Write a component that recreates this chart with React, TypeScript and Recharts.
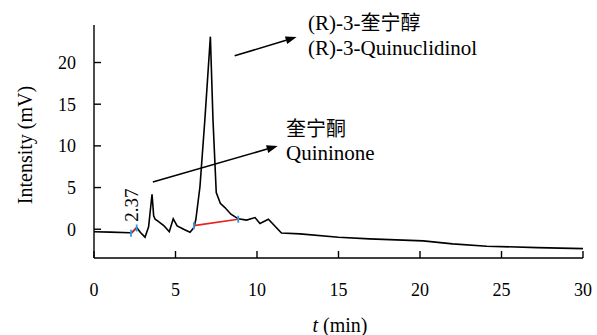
import React from 'react';
import { LineChart, Line, XAxis, YAxis, Scatter, ReferenceLine } from 'recharts';

// retention time (min) and detector signal (mV)
const times = [0, 1, 2.2, 2.3, 2.62, 2.85, 3.13, 3.35, 3.56, 3.66, 3.75, 3.9, 4.3, 4.62, 4.86, 5.1, 5.5, 5.89, 6.13, 6.25, 6.5, 6.8, 7.14, 7.3, 7.5, 7.75, 8.03, 8.4, 8.85, 9.36, 9.88, 10.18, 10.7, 11.5, 12.64, 15, 16.9, 20.2, 22, 24.1, 27.2, 30];
const signal = [-0.3, -0.35, -0.42, -0.45, 0.2, -0.4, -0.95, 0.3, 4.2, 1.6, 1.2, 1.0, 0.4, -0.3, 1.25, 0.4, 0.0, -0.35, 0.2, 1.2, 5.1, 13.1, 23.1, 13.1, 4.4, 3.1, 2.6, 1.8, 1.25, 1.1, 1.4, 0.7, 1.2, -0.45, -0.56, -0.96, -1.16, -1.4, -1.76, -2.04, -2.2, -2.33];

// integration baselines (start / end of each peak)
const baseA = [{ t: 2.27, v: -0.48 }, { t: 2.62, v: 0.15 }];
const baseB = [{ t: 6.13, v: 0.43 }, { t: 8.85, v: 1.2 }];
const peakMarks = [...baseA, ...baseB];

const xTicks = [0, 5, 10, 15, 20, 25, 30];
const yTicks = [0, 5, 10, 15, 20];

// annotation arrows [tail, head]
const arrowProduct = [{ x: 8.63, y: 20.8 }, { x: 12.43, y: 23.05 }];
const arrowSubstrate = [{ x: 3.61, y: 5.67 }, { x: 11.27, y: 9.98 }];

const chromatogram = times.map((t, i) => ({ t, v: signal[i] }));

const serif = 'Times New Roman, Liberation Serif, serif';
const cjk = 'Noto Sans CJK SC, sans-serif';

function Arrow(props: any) {
  const { x1, y1, x2, y2 } = props;
  if (x1 == null) return null;
  const ang = Math.atan2(y2 - y1, x2 - x1);
  const L = 11;
  const W = 4;
  const bx = x2 - L * Math.cos(ang);
  const by = y2 - L * Math.sin(ang);
  const px = -Math.sin(ang) * W;
  const py = Math.cos(ang) * W;
  return (
    <g>
      <line x1={x1} y1={y1} x2={bx} y2={by} stroke="#000" strokeWidth={1.6} />
      <polygon points={`${x2},${y2} ${bx + px},${by + py} ${bx - px},${by - py}`} fill="#000" />
    </g>
  );
}

function Tick(props: any) {
  const { cx, cy } = props;
  return <line x1={cx} y1={cy - 3.5} x2={cx} y2={cy + 3.5} stroke="#2f9be8" strokeWidth={1.8} />;
}

const txt: React.CSSProperties = {
  position: 'absolute',
  fontFamily: serif,
  fontSize: 21,
  color: '#000',
  whiteSpace: 'nowrap',
  lineHeight: '26px',
};

const tickStyle = { fill: '#000', fontSize: 18, fontFamily: serif };

export default function App() {
  return (
    <div style={{ position: 'absolute', left: 0, top: 0, width: 597, height: 335, background: '#fff', fontFamily: serif }}>
      <LineChart width={597} height={335} margin={{ top: 25, right: 14, bottom: 0, left: 0 }} style={{ fontFamily: serif }}>
        <XAxis
          type="number"
          dataKey="t"
          domain={[0, 30]}
          ticks={xTicks}
          allowDataOverflow
          height={77}
          tickSize={-7}
          tickMargin={32}
          stroke="#000"
          strokeWidth={1.4}
          tick={tickStyle}
        />
        <YAxis
          type="number"
          domain={[-3.45, 24.5]}
          ticks={yTicks}
          allowDataOverflow
          width={94}
          tickSize={-7}
          tickMargin={25}
          stroke="#000"
          strokeWidth={1.4}
          tick={tickStyle}
        />
        <Line data={chromatogram} dataKey="v" type="linear" stroke="#000" strokeWidth={1.6} dot={false} isAnimationActive={false} />
        <Line data={baseA} dataKey="v" type="linear" stroke="#e8221c" strokeWidth={1.6} dot={false} isAnimationActive={false} />
        <Line data={baseB} dataKey="v" type="linear" stroke="#e8221c" strokeWidth={1.6} dot={false} isAnimationActive={false} />
        <Scatter data={peakMarks} dataKey="v" shape={<Tick />} isAnimationActive={false} />
        <ReferenceLine segment={arrowProduct} shape={<Arrow />} ifOverflow="visible" />
        <ReferenceLine segment={arrowSubstrate} shape={<Arrow />} ifOverflow="visible" />
      </LineChart>

      <div style={{ ...txt, left: 308, top: 9 }}>
        (R)-3-<span style={{ fontFamily: cjk, fontSize: 20 }}>奎宁醇</span>
      </div>
      <div style={{ ...txt, left: 308, top: 35 }}>(R)-3-Quinuclidinol</div>
      <div style={{ ...txt, left: 286, top: 115, fontFamily: cjk, fontSize: 20 }}>奎宁酮</div>
      <div style={{ ...txt, left: 286, top: 140 }}>Quininone</div>
      <div style={{ ...txt, fontSize: 19, left: 132, top: 205, transform: 'translate(-50%, -50%) rotate(-90deg)' }}>2.37</div>
      <div style={{ ...txt, fontSize: 20, left: 25, top: 145, transform: 'translate(-50%, -50%) rotate(-90deg)' }}>Intensity (mV)</div>
      <div style={{ ...txt, fontSize: 20, left: 340, top: 325, transform: 'translate(-50%, -50%)' }}>
        <i>t</i> (min)
      </div>
    </div>
  );
}
